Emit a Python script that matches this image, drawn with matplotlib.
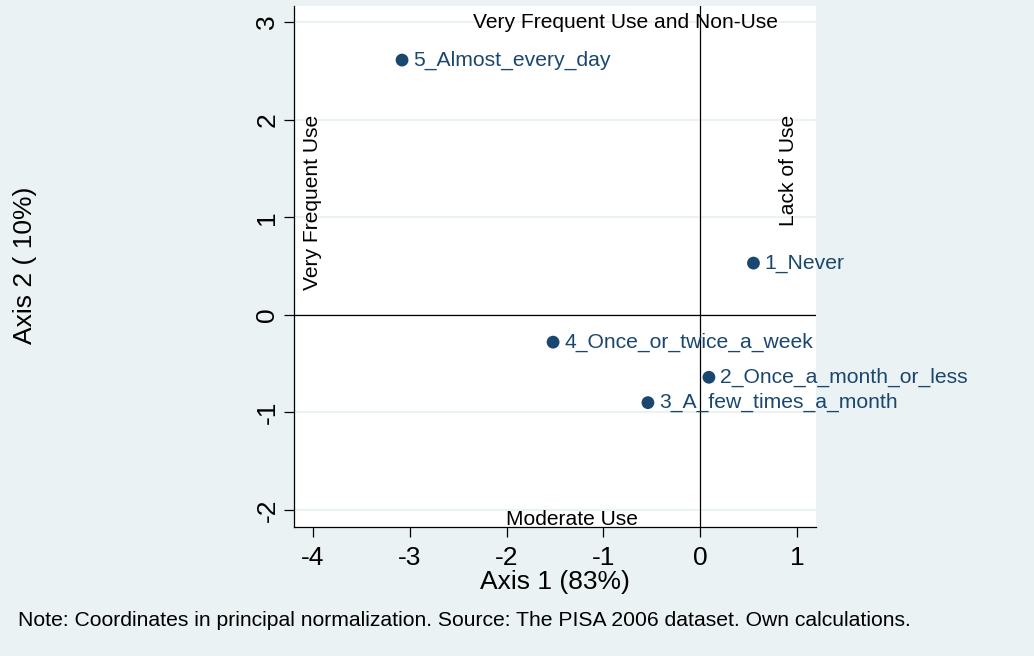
import matplotlib
matplotlib.use("Agg")
import matplotlib.pyplot as plt

plt.rcParams['font.family'] = ['Liberation Sans', 'DejaVu Sans']

categories = ["1_Never", "2_Once_a_month_or_less", "3_A_few_times_a_month",
              "4_Once_or_twice_a_week", "5_Almost_every_day"]
axis1 = [0.55, 0.09, -0.54, -1.52, -3.08]
axis2 = [0.53, -0.64, -0.90, -0.28, 2.61]
xticks = [-4, -3, -2, -1, 0, 1]
yticks = [-2, -1, 0, 1, 2, 3]

bg = '#EAF2F3'
navy = '#1a476f'

fig = plt.figure(figsize=(10.34, 6.56), dpi=100, facecolor=bg)
ax = fig.add_axes([294/1034, 1-527/656, (816-294)/1034, (527-6)/656])
ax.set_facecolor('white')
ax.set_xlim(-4.196, 1.196)
ax.set_ylim(-2.174, 3.164)

for y in yticks:
    ax.axhline(y, color=bg, lw=1.5, zorder=0)
ax.axhline(0, color='black', lw=0.9, zorder=1)
ax.axvline(0, color='black', lw=0.9, zorder=1)

ax.scatter(axis1, axis2, s=85, color=navy, zorder=3, edgecolors='none')
for x, y, lab in zip(axis1, axis2, categories):
    ax.annotate(lab, (x, y), xytext=(8, 0), textcoords='offset points',
                va='center', ha='left', color=navy, fontsize=15.2, zorder=4)

ax.text(-0.77, 3.0, "Very Frequent Use and Non-Use", ha='center', va='center', fontsize=15.1, color='black')
ax.text(-1.33, -2.1, "Moderate Use", ha='center', va='center', fontsize=15.1, color='black')
ax.text(-4.0, 1.15, "Very Frequent Use", ha='center', va='center', rotation=90, fontsize=15.1, color='black')
ax.text(0.91, 1.48, "Lack of Use", ha='center', va='center', rotation=90, fontsize=15.1, color='black')

for s in ['top', 'right']:
    ax.spines[s].set_visible(False)
ax.spines['left'].set_linewidth(0.9)
ax.spines['bottom'].set_linewidth(0.9)

ax.set_xticks(xticks)
ax.set_xticklabels([str(v) for v in xticks], fontsize=19)
ax.set_yticks(yticks)
ax.set_yticklabels([str(v) for v in yticks], fontsize=19, rotation=90, va='center')
ax.tick_params(direction='out', length=7, width=0.9)
ax.tick_params(axis='x', pad=7)

ax.set_xlabel("Axis 1 (83%)", fontsize=19)
ax.xaxis.set_label_coords((555 - 294) / (816 - 294), (527 - 582) / (527 - 6))
ax.xaxis.label.set_va('center')
ax.set_ylabel("Axis 2 ( 10%)", fontsize=19)
ax.yaxis.set_label_coords((25 - 294) / (816 - 294), (527 - 265) / (527 - 6))
ax.yaxis.label.set_va('center')

fig.text(18/1034, 1-621/656, "Note: Coordinates in principal normalization. Source: The PISA 2006 dataset. Own calculations.",
         ha='left', va='center', fontsize=15.2)

fig.savefig("out.png", dpi=100, facecolor=bg)
